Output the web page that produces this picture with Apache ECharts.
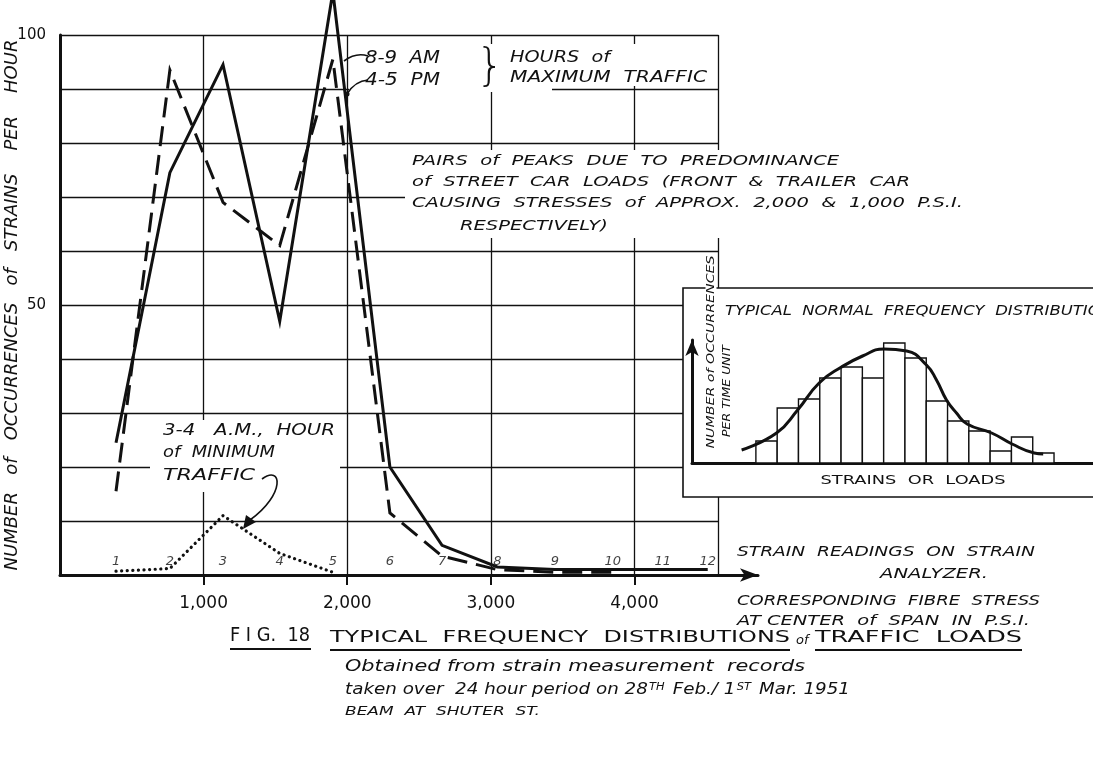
<!DOCTYPE html>
<html><head><meta charset="utf-8">
<script src="https://cdn.jsdelivr.net/npm/echarts@6.0.0/dist/echarts.min.js"></script>
<style>html,body{margin:0;padding:0;background:#fff}#c{width:1093px;height:770px}</style>
</head><body><div id="c"></div>
<script>
// ---------------- data ----------------
const readingNumbers = ['1','2','3','4','5','6','7','8','9','10','11','12'];
const readingPsi = [390, 765, 1135, 1530, 1900, 2297, 2660, 3045, 3445, 3849, 4197, 4510];
const hour8to9AM = [24.5, 74.5, 94.5, 47, 108, 20, 5.5, 1.5, 1, 1, 1, 1];
const hour4to5PM = [15.5, 93.5, 69, 61, 95.5, 11.5, 3.5, 1, 0.5, 0.5];
const hour3to4AM = [0.7, 1.2, 11, 4, 0.5];
const xTickValues = [1000, 2000, 3000, 4000];
const yLabelValues = [50, 100];
const yGridValues = [10, 20, 30, 40, 50, 60, 70, 80, 90, 100];
const gridRightPsi = 4585;
// inset: typical normal frequency distribution
const insetBinHeights = [2.2, 5.5, 6.4, 8.5, 9.6, 8.5, 12, 10.5, 6.2, 4.2, 3.2, 1.2, 2.6, 1.0];
const insetCurveX = [-0.67, 0.97, 1.96, 2.97, 4.02, 5.01, 6.01, 7.08, 8.01, 8.48, 8.95, 9.42, 9.92, 11.07, 12.03, 13.07, 13.49];
const insetCurveY = [1.3, 3.0, 5.3, 8.0, 9.6, 10.7, 11.4, 11.2, 9.8, 8.3, 6.3, 5.0, 3.9, 3.0, 1.9, 1.0, 0.9];

// ---------------- helpers ----------------
const FF = '"DejaVu Sans", sans-serif';
const INK = '#111';
function fontStr(size, italic, weight) { return (italic ? 'italic ' : '') + (weight || 'normal') + ' ' + size + 'px ' + FF; }
const measureCtx = document.createElement('canvas').getContext('2d');
function textWidth(s, f) { measureCtx.font = f; return measureCtx.measureText(s).width; }
// text stretched horizontally to the lettering width of the drawing
function T(s, x, y, size, italic, target, extra) {
  extra = extra || {};
  const f = fontStr(size, italic);
  const e = { type: 'text', x: x, y: y, z: extra.z || 12, silent: true,
    style: Object.assign({ text: s, font: f, fill: INK, align: 'left', verticalAlign: 'middle' }, extra.style || {}) };
  if (target) e.scaleX = target / textWidth(s, f);
  if (extra.scaleX) e.scaleX = extra.scaleX;
  if (extra.rotation !== undefined) e.rotation = extra.rotation;
  return e;
}
function mask(x, y, w, h, z) { return { type: 'rect', z: z || 8, silent: true, shape: { x: x, y: y, width: w, height: h }, style: { fill: '#fff' } }; }
function seg(x1, y1, x2, y2, w, z) { return { type: 'line', z: z || 12, silent: true, shape: { x1: x1, y1: y1, x2: x2, y2: y2 }, style: { stroke: INK, lineWidth: w || 1.5 } }; }

// ---------------- annotations ----------------
const g = [];
// masks behind annotation blocks (grid lines are interrupted there in the drawing)
g.push(mask(360, 44, 352, 42));
g.push(mask(349, 86, 203, 6));
g.push(mask(405, 150, 315, 88));
g.push(mask(150, 420, 190, 72));
// maximum traffic note
g.push(T('8-9  AM', 365, 58, 18, true, 75));
g.push(T('4-5  PM', 365, 80, 18, true, 75));
g.push(T('}', 476, 69, 44, false, 0, { style: { font: 'normal 300 44px ' + FF } }));
g.push(T('HOURS  of', 510, 58, 15, true, 100));
g.push(T('MAXIMUM  TRAFFIC', 510, 78, 15, true, 197));
g.push({ type: 'bezierCurve', z: 12, silent: true, shape: { x1: 368, y1: 56, x2: 344, y2: 61, cpx1: 356, cpy1: 52 }, style: { stroke: INK, lineWidth: 1.6, fill: null } });
g.push({ type: 'bezierCurve', z: 12, silent: true, shape: { x1: 368, y1: 80, x2: 347, y2: 94, cpx1: 355, cpy1: 81 }, style: { stroke: INK, lineWidth: 1.6, fill: null } });
g.push({ type: 'circle', z: 12, silent: true, shape: { cx: 347, cy: 94, r: 2.5 }, style: { fill: INK } });
// pairs of peaks note (one lettering scale for the whole block)
const pairsLines = ['PAIRS  of  PEAKS  DUE  TO  PREDOMINANCE', 'of  STREET  CAR  LOADS  (FRONT  &  TRAILER  CAR',
  'CAUSING  STRESSES  of  APPROX.  2,000  &  1,000  P.S.I.', 'RESPECTIVELY)'];
const pairsScale = 551 / textWidth(pairsLines[2], fontStr(14, true));
g.push(T(pairsLines[0], 412, 161, 14, true, 0, { scaleX: pairsScale }));
g.push(T(pairsLines[1], 412, 182, 14, true, 0, { scaleX: pairsScale }));
g.push(T(pairsLines[2], 412, 203, 14, true, 0, { scaleX: pairsScale }));
g.push(T(pairsLines[3], 460, 226, 14, true, 0, { scaleX: pairsScale }));
// minimum traffic note
g.push(T('3-4   A.M.,  HOUR', 163, 431, 15, true, 172));
g.push(T('of  MINIMUM', 163, 453, 15, true, 112));
g.push(T('TRAFFIC', 163, 476, 15, true, 92));
g.push({ type: 'bezierCurve', z: 12, silent: true, shape: { x1: 262, y1: 479, cpx1: 282, cpy1: 464, cpx2: 286, cpy2: 494, x2: 250, y2: 520 }, style: { stroke: INK, lineWidth: 1.6, fill: null } });
g.push({ type: 'polygon', z: 12, silent: true, shape: { points: [[243, 529], [246, 515], [256, 522]] }, style: { fill: INK } });
// axis captions
g.push(T('STRAIN  READINGS  ON  STRAIN', 737, 552, 14, true, 298));
g.push(T('ANALYZER.', 880, 574, 14, true, 108));
g.push(T('CORRESPONDING  FIBRE  STRESS', 737, 601, 14, true, 303));
g.push(T('AT CENTER  of  SPAN  IN  P.S.I.', 737, 621, 14, true, 293));
// figure title
g.push(T('F I G.  18', 230, 636, 19, false, 80));
g.push(seg(230, 649, 311, 649, 2.2));
g.push(T('TYPICAL  FREQUENCY  DISTRIBUTIONS', 330, 638, 15, false, 460));
g.push(seg(330, 650, 790, 650, 2));
g.push(T('of', 796, 641, 13, true));
g.push(T('TRAFFIC  LOADS', 815, 638, 15, false, 207));
g.push(seg(815, 650, 1022, 650, 2));
g.push(T('Obtained from strain measurement  records', 345, 667, 16, true, 460));
(function () {
  const f16 = fontStr(16, true), f10 = fontStr(10, true);
  const w = textWidth('taken over  24 hour period on 28', f16) + textWidth('TH', f10) + 3 +
            textWidth(' Feb./ 1', f16) + textWidth('ST', f10) + 3 + textWidth(' Mar. 1951', f16);
  g.push({ type: 'text', x: 345, y: 690, z: 12, silent: true, scaleX: 505 / w, style: {
    text: 'taken over  24 hour period on 28{s|TH} Feb./ 1{s|ST} Mar. 1951', font: f16, fill: INK, align: 'left', verticalAlign: 'middle',
    rich: { s: { fontSize: 10, fontStyle: 'italic', fontFamily: 'DejaVu Sans', verticalAlign: 'top', fill: INK, padding: [0, 2, 0, 1] } } } });
})();
g.push(T('BEAM  AT  SHUTER  ST.', 345, 712, 13, true, 195));
// inset frame and captions
g.push({ type: 'rect', z: 20, silent: true, shape: { x: 683, y: 288, width: 420, height: 209 }, style: { fill: '#fff', stroke: INK, lineWidth: 1.6 } });
g.push(T('TYPICAL  NORMAL  FREQUENCY  DISTRIBUTION', 725, 311, 14, true, 388, { z: 30 }));
g.push(T('STRAINS  OR  LOADS', 913, 481, 12, false, 185, { z: 30, style: { align: 'center' } }));
g.push(T('NUMBER of OCCURRENCES', 711, 352, 11, true, 193, { z: 30, rotation: Math.PI / 2, style: { align: 'center', backgroundColor: '#fff', padding: [0, 2] } }));
g.push(T('PER TIME UNIT', 727, 391, 10, true, 92, { z: 30, rotation: Math.PI / 2, style: { align: 'center' } }));

// ---------------- chart ----------------
const gridLine = { color: INK, width: 1.3, type: 'solid' };
const markLines = yGridValues.map(v => [{ coord: [0, v] }, { coord: [gridRightPsi, v] }])
  .concat(xTickValues.concat([gridRightPsi]).map(x => [{ coord: [x, 0] }, { coord: [x, 100] }]));

const chart = echarts.init(document.getElementById('c'), null, { renderer: 'canvas' });
chart.setOption({
  animation: false,
  backgroundColor: '#fff',
  textStyle: { fontFamily: FF },
  grid: [
    { left: 60, top: 35, width: 698, height: 540, outerBoundsMode: 'none', containLabel: false },
    { left: 692, top: 340, width: 401, height: 123, outerBoundsMode: 'none', containLabel: false }
  ],
  xAxis: [
    { type: 'value', gridIndex: 0, min: 0, max: 4860,
      axisLine: { show: true, onZero: false, lineStyle: { color: INK, width: 3 }, symbol: ['none', 'arrow'], symbolSize: [10, 18] },
      axisTick: { show: true, length: 10, inside: false, lineStyle: { color: INK, width: 2 }, customValues: xTickValues },
      axisLabel: { show: true, customValues: xTickValues, margin: 20, fontSize: 17, color: INK, fontFamily: FF,
        formatter: v => v.toLocaleString('en-US') },
      splitLine: { show: false } },
    { type: 'value', gridIndex: 1, min: -3, max: 15.83, z: 25,
      axisLine: { show: true, onZero: false, lineStyle: { color: INK, width: 3 } },
      axisTick: { show: false }, axisLabel: { show: false }, splitLine: { show: false } }
  ],
  yAxis: [
    { type: 'value', gridIndex: 0, min: 0, max: 100, interval: 50,
      name: 'NUMBER   of   OCCURRENCES   of   STRAINS    PER    HOUR', nameLocation: 'middle', nameGap: 39, nameRotate: 90,
      nameMoveOverlap: false,
      nameTextStyle: { fontSize: 18, fontStyle: 'italic', color: INK, fontFamily: FF },
      axisLine: { show: true, onZero: false, lineStyle: { color: INK, width: 3 } },
      axisTick: { show: false },
      axisLabel: { show: true, customValues: yLabelValues, margin: 14, fontSize: 15, color: INK, fontFamily: FF },
      splitLine: { show: false } },
    { type: 'value', gridIndex: 1, min: 0, max: 12.3, z: 25,
      axisLine: { show: true, onZero: false, lineStyle: { color: INK, width: 3 }, symbol: ['none', 'arrow'], symbolSize: [10, 16] },
      axisTick: { show: false }, axisLabel: { show: false }, splitLine: { show: false } }
  ],
  series: [
    { name: '8-9 AM', type: 'line', xAxisIndex: 0, yAxisIndex: 0, z: 4, clip: false, symbol: 'none',
      data: hour8to9AM.map((v, i) => [readingPsi[i], v]),
      lineStyle: { color: INK, width: 3, join: 'miter' },
      markLine: { silent: true, z: 1, symbol: ['none', 'none'], label: { show: false }, lineStyle: gridLine,
        emphasis: { disabled: true }, animation: false, precision: 4, data: markLines } },
    { name: '4-5 PM', type: 'line', xAxisIndex: 0, yAxisIndex: 0, z: 4, clip: false, symbol: 'none',
      data: hour4to5PM.map((v, i) => [readingPsi[i], v]),
      lineStyle: { color: INK, width: 3, type: [20, 9], join: 'miter' } },
    { name: '3-4 AM', type: 'line', xAxisIndex: 0, yAxisIndex: 0, z: 4, symbol: 'none',
      data: hour3to4AM.map((v, i) => [readingPsi[i], v]),
      lineStyle: { color: INK, width: 3.2, type: [0.1, 5.5], cap: 'round' } },
    { name: 'readings', type: 'scatter', xAxisIndex: 0, yAxisIndex: 0, z: 5, symbolSize: 0, silent: true,
      data: readingPsi.map(x => [x, 0]),
      label: { show: true, position: 'top', distance: 7, fontSize: 13, fontStyle: 'italic', color: INK, fontFamily: FF,
        formatter: p => readingNumbers[p.dataIndex] } },
    { name: 'histogram', type: 'custom', xAxisIndex: 1, yAxisIndex: 1, z: 26, silent: true,
      data: insetBinHeights.map((h, i) => [i, h]),
      encode: { x: 0, y: 1 },
      renderItem: function (params, api) {
        const p0 = api.coord([api.value(0), api.value(1)]);
        const p1 = api.coord([api.value(0) + 1, 0]);
        return { type: 'rect', shape: { x: p0[0], y: p0[1], width: p1[0] - p0[0], height: p1[1] - p0[1] },
          style: { fill: '#fff', stroke: INK, lineWidth: 1.4 } };
      } },
    { name: 'normal curve', type: 'line', xAxisIndex: 1, yAxisIndex: 1, z: 27, symbol: 'none', smooth: true, silent: true,
      data: insetCurveX.map((x, i) => [x, insetCurveY[i]]),
      lineStyle: { color: INK, width: 3 } }
  ],
  graphic: g
});
</script>
</body></html>
